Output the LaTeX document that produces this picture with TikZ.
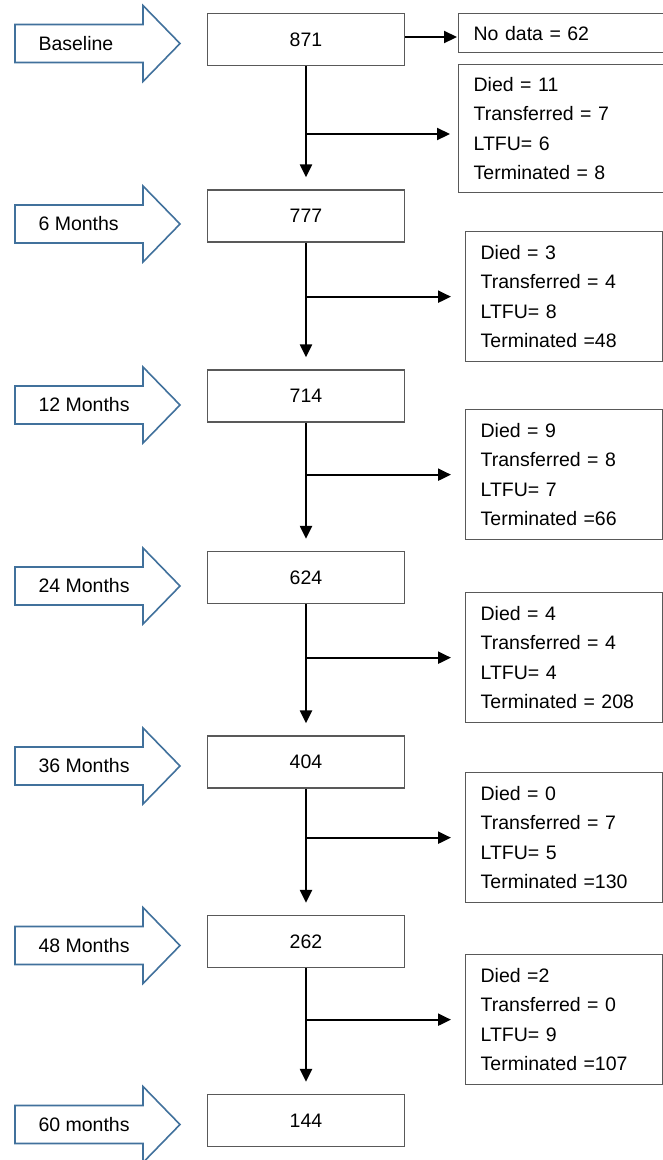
\documentclass[tikz,border=0pt]{standalone}
\usepackage{fontspec}
\setmainfont{Liberation Sans}
\usetikzlibrary{arrows.meta,positioning,calc}
\definecolor{stage}{HTML}{41719C}
\definecolor{frame}{HTML}{595959}

\tikzset{
  count/.style={draw=frame, line width=1.3pt, minimum width=197pt, minimum height=52pt,
    font=\fontsize{19.5}{23}\selectfont},
  loss/.style={draw=frame, line width=1.3pt, anchor=north west, text width=167pt,
    inner xsep=15pt, minimum height=130pt, align=left, font=\fontsize{19.5}{29.5}\selectfont},
  flow/.style={line width=2.2pt, -{Triangle[width=12pt,length=13pt]}},
}

% blue block arrow with its label
\newcommand{\stagearrow}[3]{%
  \draw[stage, line width=1.6pt, line join=miter, fill=white]
    (15,#2-19) -- (143,#2-19) -- (143,#2-38) -- (180,#2) -- (143,#2+38)
    -- (143,#2+19) -- (15,#2+19) -- cycle;
  \node[anchor=west, font=\fontsize{19.5}{23}\selectfont] (#1) at (35,#2) {#3};
}

\begin{document}
\begin{tikzpicture}[x=1pt, y=-1pt]
  \useasboundingbox (0,0) rectangle (663,1160);

  % stages
  \stagearrow{base}{43.5}{Baseline}
  \stagearrow{m6}{224}{6 Months}
  \stagearrow{m12}{405}{12 Months}
  \stagearrow{m24}{586}{24 Months}
  \stagearrow{m36}{766}{36 Months}
  \stagearrow{m48}{945.5}{48 Months}
  \stagearrow{m60}{1124.5}{60 months}

  % patients remaining
  \node[count] (n871) at (306,39.5) {871};
  \node[count] (n777) at (306,216) {777};
  \node[count] (n714) at (306,396) {714};
  \node[count] (n624) at (306,577.5) {624};
  \node[count] (n404) at (306,762) {404};
  \node[count] (n262) at (306,941.5) {262};
  \node[count] (n144) at (306,1120.5) {144};

  % losses
  \node[loss, minimum height=39pt, inner ysep=2pt, text width=177pt] (nodata) at (458,13) {No data = 62};
  \node[loss, minimum height=128pt, text width=177pt] (d1) at (458,64)
    {Died = 11\\Transferred = 7\\LTFU= 6\\Terminated = 8};
  \node[loss] (d2) at (465,231) {Died = 3\\Transferred = 4\\LTFU= 8\\Terminated =48};
  \node[loss] (d3) at (465,409) {Died = 9\\Transferred = 8\\LTFU= 7\\Terminated =66};
  \node[loss] (d4) at (465,592) {Died = 4\\Transferred = 4\\LTFU= 4\\Terminated = 208};
  \node[loss] (d5) at (465,772) {Died = 0\\Transferred = 7\\LTFU= 5\\Terminated =130};
  \node[loss] (d6) at (465,954) {Died =2\\Transferred = 0\\LTFU= 9\\Terminated =107};

  % connectors
  \draw[flow, shorten >=1pt] (n871.east |- 0,37) -- (nodata.west |- 0,37);
  \draw[flow, shorten >=8pt] (n871.south |- 0,134) -- (d1.west |- 0,134);
  \foreach \a/\b in {n777/d2, n714/d3, n624/d4, n404/d5, n262/d6}
    \draw[flow, shorten >=14pt] (\a.south |- \b.west) -- (\b.west);
  \foreach \a/\b in {n871/n777, n777/n714, n714/n624, n624/n404, n404/n262, n262/n144}
    \draw[flow, shorten >=12pt] (\a.south) -- (\b.north);
\end{tikzpicture}
\end{document}
